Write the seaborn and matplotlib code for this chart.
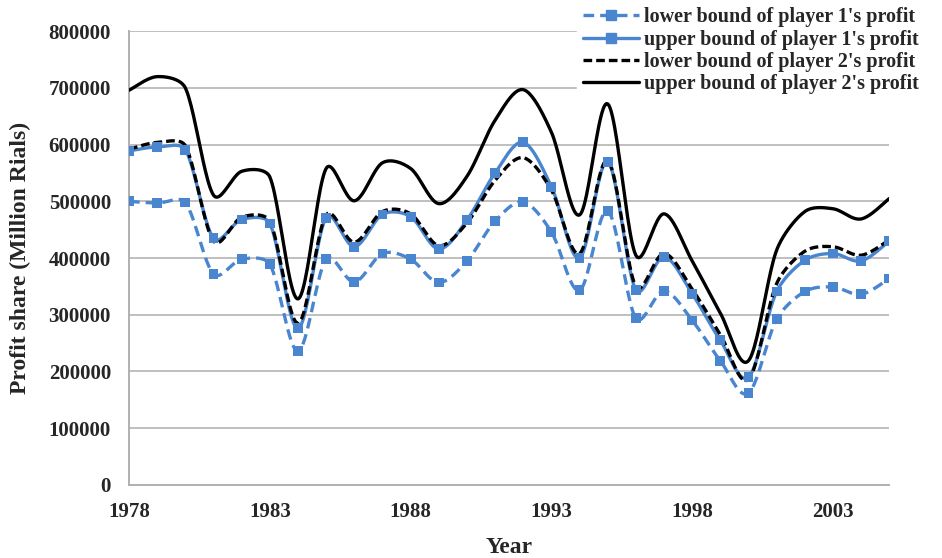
import matplotlib
matplotlib.use('Agg')
import matplotlib.pyplot as plt
import seaborn as sns
import numpy as np
import pandas as pd
from matplotlib.lines import Line2D

# Data
years = list(range(1978, 2006))

lower_p1 = [500000, 497000, 498000, 372000, 398000, 389000, 236000, 398000,
            358000, 408000, 398000, 357000, 395000, 465000, 499000, 446000,
            343000, 483000, 294000, 342000, 290000, 219000, 162000, 292000,
            341000, 349000, 336000, 364000]
upper_p1 = [589000, 596000, 591000, 435000, 468000, 461000, 276000, 471000,
            420000, 477000, 473000, 416000, 467000, 550000, 604000, 526000,
            400000, 570000, 344000, 402000, 337000, 255000, 190000, 341000,
            396000, 408000, 395000, 430000]
lower_p2 = [592000, 604000, 598000, 430000, 472000, 465000, 285000, 476000,
            428000, 482000, 478000, 422000, 462000, 537000, 577000, 520000,
            408000, 572000, 350000, 408000, 345000, 265000, 186000, 355000,
            412000, 420000, 405000, 432000]
upper_p2 = [696000, 720000, 700000, 511000, 553000, 543000, 328000, 558000,
            501000, 568000, 558000, 496000, 544000, 643000, 697000, 622000,
            476000, 672000, 405000, 478000, 395000, 303000, 219000, 414000,
            482000, 487000, 469000, 505000]

labels = ["lower bound of player 1's profit", "upper bound of player 1's profit",
          "lower bound of player 2's profit", "upper bound of player 2's profit"]

BLUE = '#4A86CF'
# echelle approx. en pixels (pour le lissage)
SX = 28.15 / 1.0
SY = 56.75 / 100000


def smooth(x, y, n=24):
    """Courbe lissee type Excel (Bezier, tangente limitee)"""
    P = np.column_stack([np.asarray(x, float) * SX, np.asarray(y, float) * SY])
    m = len(P)
    c_out = np.zeros_like(P)
    c_in = np.zeros_like(P)
    for i in range(m):
        a = P[max(i - 1, 0)]
        b = P[min(i + 1, m - 1)]
        d = b - a
        nd = np.hypot(*d)
        u = d / nd if nd > 0 else d
        L_prev = np.hypot(*(P[i] - a))
        L_next = np.hypot(*(b - P[i]))
        c_out[i] = P[i] + u * min(nd / 6, L_next / 3)
        c_in[i] = P[i] - u * min(nd / 6, L_prev / 3)
    t = np.linspace(0, 1, n, endpoint=False)[:, None]
    pts = []
    for i in range(m - 1):
        p0, c1, c2, p3 = P[i], c_out[i], c_in[i + 1], P[i + 1]
        pts.append((1 - t) ** 3 * p0 + 3 * (1 - t) ** 2 * t * c1
                   + 3 * (1 - t) * t ** 2 * c2 + t ** 3 * p3)
    pts.append(P[-1:])
    pts = np.vstack(pts)
    return pd.DataFrame({'x': pts[:, 0] / SX, 'y': pts[:, 1] / SY})


sns.set_style('white')
plt.rcParams['font.family'] = ['Liberation Serif', 'DejaVu Serif']
plt.rcParams['font.weight'] = 'bold'

fig = plt.figure(figsize=(9.42, 5.58), dpi=100)
ax = fig.add_axes([0.137, 0.131, 0.807, 0.813])

series = [
    (lower_p1, BLUE, (0, (3.2, 1.8)), True),
    (upper_p1, BLUE, '-', True),
    (lower_p2, 'black', (0, (2.6, 1.2)), False),
    (upper_p2, 'black', '-', False),
]

handles = []
for vals, color, ls, mark in series:
    sm = smooth(years, vals)
    sns.lineplot(data=sm, x='x', y='y', ax=ax, color=color, linewidth=2.4,
                 linestyle=ls, sort=False, estimator=None, zorder=3)
    if mark:
        sns.scatterplot(x=years, y=vals, ax=ax, color=BLUE, marker='s', s=50,
                        edgecolor='none', linewidth=0, zorder=4)
    handles.append(Line2D([], [], color=color, linewidth=2.4, linestyle=ls,
                          marker='s' if mark else None, markersize=7,
                          markevery=[1] if mark else None))

ax.set_xlim(1978, 2005)
ax.set_ylim(0, 800000)
ax.set_xticks(range(1978, 2005, 5))
ax.set_yticks(range(0, 800001, 100000))
ax.tick_params(axis='both', labelsize=15, length=4, width=1.2, color='#B0B0B0',
               direction='out')
ax.tick_params(axis='x', pad=8)
ax.tick_params(axis='y', pad=9)
for lab in ax.get_xticklabels() + ax.get_yticklabels():
    lab.set_fontweight('bold')

ax.grid(axis='y', color='#BFBFBF', linewidth=1.4)
ax.set_axisbelow(True)
for side in ['top', 'right']:
    ax.spines[side].set_visible(False)
for side in ['left', 'bottom']:
    ax.spines[side].set_color('#B0B0B0')
    ax.spines[side].set_linewidth(1.4)

ax.set_xlabel('Year', fontsize=17, fontweight='bold', labelpad=11)
ax.set_ylabel('Profit share (Million Rials)', fontsize=17, fontweight='bold', labelpad=13)

leg = fig.legend(handles, labels, loc='upper right', bbox_to_anchor=(0.993, 1.016),
                 frameon=True, fancybox=False, edgecolor='white', framealpha=1,
                 prop={'size': 14.5, 'weight': 'bold'}, handlelength=2.8,
                 handletextpad=0.25, labelspacing=0.12, borderpad=0.3)
leg.set_zorder(10)

fig.savefig('out.png', dpi=100, facecolor='white')
